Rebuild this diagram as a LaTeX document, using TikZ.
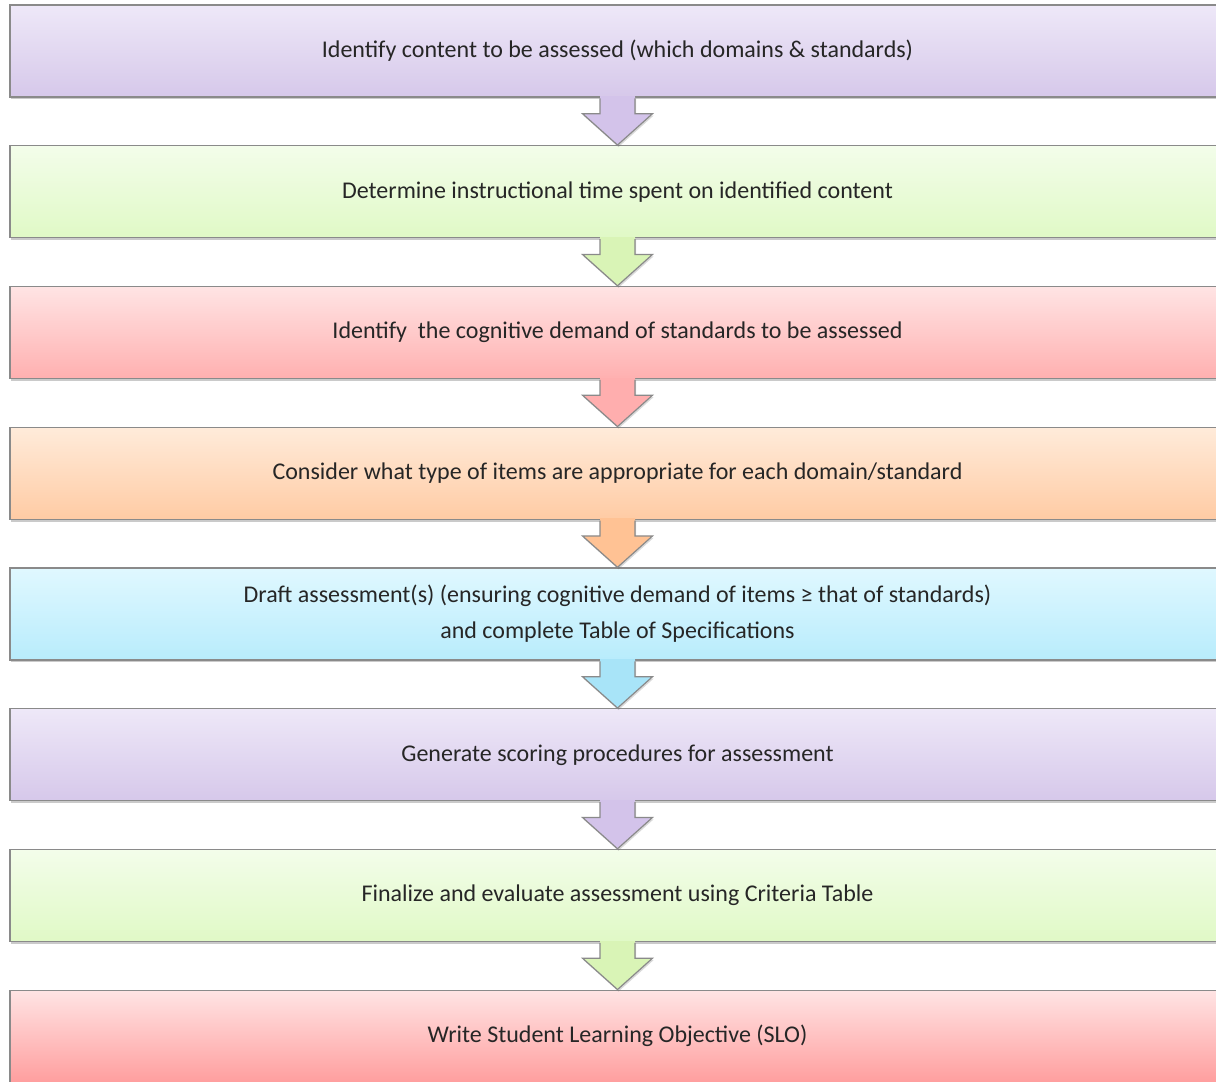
\documentclass[tikz,border=0pt]{standalone}
\usepackage{fontspec}
\setmainfont{Carlito}
\usetikzlibrary{calc,shadows}
\definecolor{txt}{HTML}{262626}
\definecolor{bord}{HTML}{8A8A8A}
\definecolor{puT}{HTML}{EEE8F8}\definecolor{puB}{HTML}{D6C8EA}\definecolor{puA}{HTML}{D3C3EA}
\definecolor{grT}{HTML}{F3FDEA}\definecolor{grB}{HTML}{E0F9C6}\definecolor{grA}{HTML}{D9F4B6}
\definecolor{rdT}{HTML}{FFE4E4}\definecolor{rdB}{HTML}{FFB0B0}\definecolor{rdA}{HTML}{FFAEAE}
\definecolor{orT}{HTML}{FFEBDA}\definecolor{orB}{HTML}{FFCBA4}\definecolor{orA}{HTML}{FFC294}
\definecolor{blT}{HTML}{E0F8FF}\definecolor{blB}{HTML}{B8ECFC}\definecolor{blA}{HTML}{A8E4F8}
\tikzset{
  stepbox/.style={draw=bord, line width=1.4pt, minimum width=1215pt, minimum height=92pt,
    inner sep=0pt, align=center, text=txt, font=\fontsize{24}{36}\selectfont,
    drop shadow={shadow xshift=1pt, shadow yshift=-2.5pt, opacity=0.35, fill=black!60}},
}
\newcommand{\flowarrow}[3]{%
  \fill[#3, drop shadow={shadow xshift=1pt, shadow yshift=-2pt, opacity=0.25, fill=black!60}]
    ($(#1.south)+(-17.5,1)$) -- ($(#1.south)+(-17.5,-16)$) -- ($(#1.south)+(-35,-16)$)
    -- (#2.north) -- ($(#1.south)+(35,-16)$) -- ($(#1.south)+(17.5,-16)$)
    -- ($(#1.south)+(17.5,1)$) -- cycle;
  \fill[#3] ($(#1.south)+(-17.5,1.5)$) rectangle ($(#1.south)+(17.5,-2)$);
  \draw[bord, line width=1.2pt, line join=miter]
    ($(#1.south)+(-17.5,-0.7)$) -- ($(#1.south)+(-17.5,-16)$) -- ($(#1.south)+(-35,-16)$)
    -- (#2.north) -- ($(#1.south)+(35,-16)$) -- ($(#1.south)+(17.5,-16)$)
    -- ($(#1.south)+(17.5,-0.7)$);
}
\begin{document}
\begin{tikzpicture}[x=1pt,y=1pt]
\useasboundingbox (0,0) rectangle (1216,1082);
\node[stepbox, top color=puT, bottom color=puB] (b1) at (617.5,1031) {Identify content to be assessed (which domains \& standards)};
\node[stepbox, top color=grT, bottom color=grB] (b2) at (617.5,890.25) {Determine instructional time spent on identified content};
\node[stepbox, top color=rdT, bottom color=rdB] (b3) at (617.5,749.5) {Identify\ \ the cognitive demand of standards to be assessed};
\node[stepbox, top color=orT, bottom color=orB] (b4) at (617.5,608.75) {Consider what type of items are appropriate for each domain/standard};
\node[stepbox, top color=blT, bottom color=blB] (b5) at (617.5,468) {Draft assessment(s) (ensuring cognitive demand of items ≥ that of standards)\\and complete Table of Specifications};
\node[stepbox, top color=puT, bottom color=puB] (b6) at (617.5,327.25) {Generate scoring procedures for assessment};
\node[stepbox, top color=grT, bottom color=grB] (b7) at (617.5,186.5) {Finalize and evaluate assessment using Criteria Table};
\node[stepbox, top color=rdT, bottom color=rdB!90!red] (b8) at (617.5,45.75) {Write Student Learning Objective (SLO)};
\flowarrow{b1}{b2}{puA}
\flowarrow{b2}{b3}{grA}
\flowarrow{b3}{b4}{rdA}
\flowarrow{b4}{b5}{orA}
\flowarrow{b5}{b6}{blA}
\flowarrow{b6}{b7}{puA}
\flowarrow{b7}{b8}{grA}
\end{tikzpicture}
\end{document}
